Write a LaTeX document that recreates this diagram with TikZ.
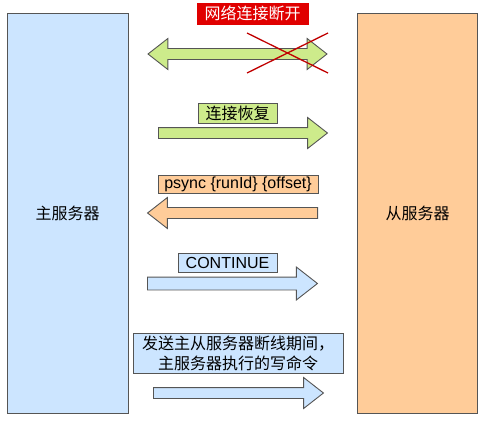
\documentclass[tikz,border=0pt]{standalone}
\usepackage{fontspec}
\setmainfont{Liberation Sans}
\newfontfamily\cjk{Noto Sans CJK SC}
\usetikzlibrary{positioning,shapes.arrows}

\definecolor{blueA}{HTML}{CCE5FF}
\definecolor{orangeA}{HTML}{FFCC99}
\definecolor{greenA}{HTML}{CDEB8B}
\definecolor{redA}{HTML}{E00000}
\definecolor{redB}{HTML}{C00000}
\definecolor{edgeA}{HTML}{555555}

\begin{document}
\begin{tikzpicture}[x=1pt,y=-1pt,
  font=\fontsize{16}{20}\selectfont,
  server/.style={draw=edgeA,line width=0.9pt,minimum width=121pt,minimum height=400pt,inner sep=0pt},
  tag/.style={draw=edgeA,line width=0.7pt,inner sep=0pt,align=center},
  barrow/.style={single arrow,draw=edgeA,line width=0.9pt,inner xsep=0pt,inner ysep=5pt,
    minimum width=30pt,single arrow head extend=10pt,single arrow tip angle=76,anchor=tail},
  darrow/.style={double arrow,draw=edgeA,line width=0.9pt,inner xsep=0pt,inner ysep=5pt,
    minimum width=31pt,double arrow head extend=10pt,double arrow tip angle=76},
  cross/.style={draw=redB,line width=1.3pt}]

\useasboundingbox (0,0) rectangle (486,423);

% the two servers
\node[server,fill=blueA] (master) at (67.5,213) {\cjk 主服务器};
\node[server,fill=orangeA,minimum width=120pt] (slave) at (417.5,213) {\cjk 从服务器};

% link lost
\node[tag,fill=redA,draw=redA,text=white,minimum width=111pt,minimum height=21pt] (lost) at (252.5,13.5) {\cjk 网络连接断开};
\node[darrow,fill=greenA,minimum height=179pt] (lostarrow) at (237.5,54) {};
\coordinate (c1) at (247,33);
\coordinate (c2) at (328,73);
\coordinate (c3) at (247,73);
\coordinate (c4) at (328,33);
\draw[cross] (c1) -- (c2);
\draw[cross] (c3) -- (c4);

% link back
\node[tag,fill=greenA,minimum width=79pt,minimum height=20pt] (back) at (237.5,113) {\cjk 连接恢复};
\node[barrow,fill=greenA,minimum height=169pt] (backarrow) at (158,133) {};

% psync
\node[tag,fill=orangeA,minimum width=160pt,minimum height=18pt] (psync) at (238,184) {psync \{runId\} \{offset\}};
\node[barrow,fill=orangeA,minimum height=170pt,minimum width=31pt,shape border rotate=180] (psyncarrow) at (318,213) {};

% continue
\node[tag,fill=blueA,minimum width=99pt,minimum height=19pt] (cont) at (227.5,262.5) {CONTINUE};
\node[barrow,fill=blueA,minimum height=170pt,minimum width=31pt,inner ysep=6pt] (contarrow) at (147,283.5) {};

% commands sent
\node[tag,fill=blueA,minimum width=210pt,minimum height=40pt] (cmds) at (238,353) {\cjk 发送主从服务器断线期间，\\\cjk 主服务器执行的写命令};
\node[barrow,fill=blueA,minimum height=170pt] (cmdsarrow) at (153,393) {};

\end{tikzpicture}
\end{document}
